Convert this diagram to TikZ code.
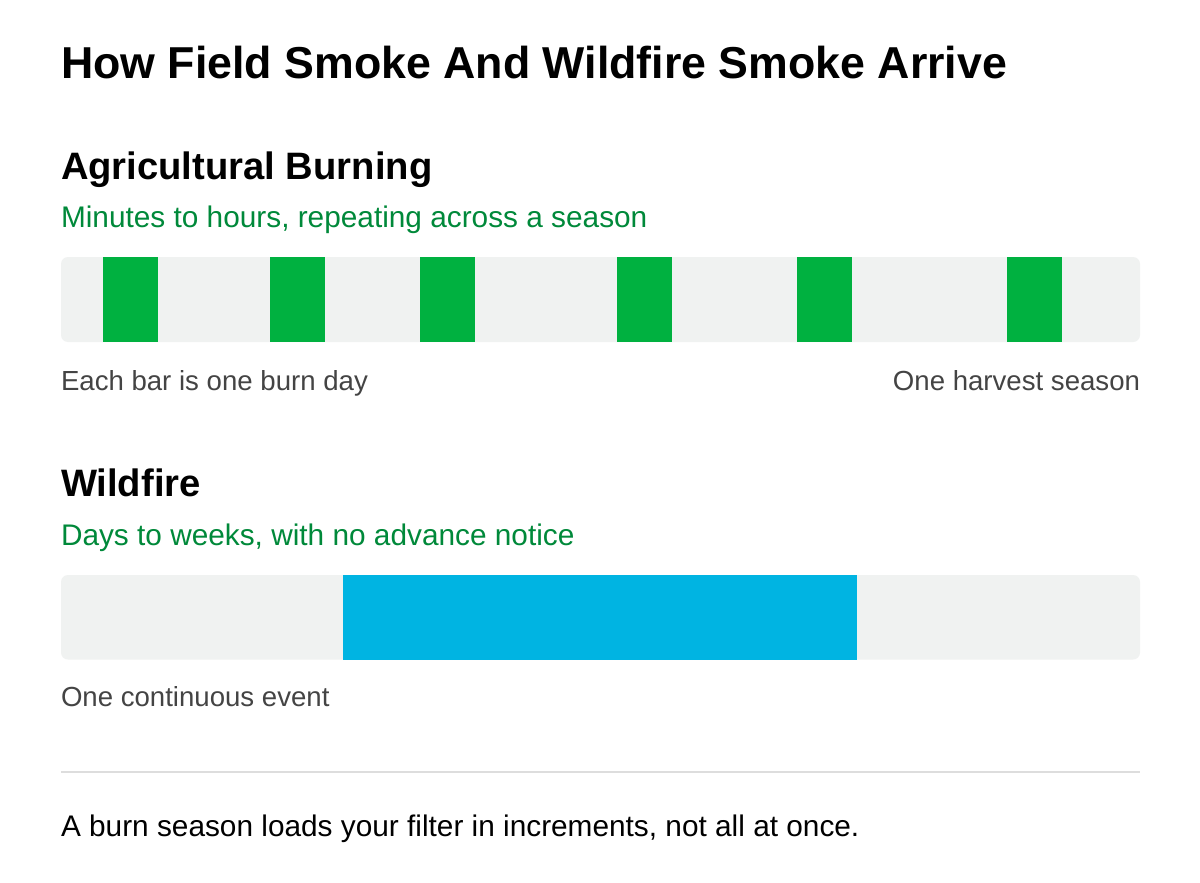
\documentclass[tikz,border=0pt]{standalone}
\usepackage{fontspec}
\setmainfont{Liberation Sans}
\definecolor{trackgray}{HTML}{F0F2F1}
\definecolor{burngreen}{HTML}{00B140}
\definecolor{fireblue}{HTML}{00B4E2}
\definecolor{subgreen}{HTML}{00893A}
\definecolor{capgray}{HTML}{444444}
\definecolor{rulegray}{HTML}{DDDDDD}
\begin{document}
\begin{tikzpicture}[x=1pt,y=-1pt,
  txt/.style={inner sep=0pt,outer sep=0pt,anchor=base west},
  title/.style={txt,font=\fontsize{44.7}{50}\selectfont\bfseries},
  heading/.style={txt,font=\fontsize{38.2}{44}\selectfont\bfseries},
  subline/.style={txt,font=\fontsize{29.8}{34}\selectfont,text=subgreen},
  caption/.style={txt,font=\fontsize{27.6}{32}\selectfont,text=capgray},
  track/.style={fill=trackgray,rounded corners=7pt},
  burnbar/.style={fill=burngreen},
  firebar/.style={fill=fireblue}]
\fill[white] (0,0) rectangle (1200,883);
\useasboundingbox (0,0) rectangle (1200,883);

\node[title] (t) at (61,78) {How Field Smoke And Wildfire Smoke Arrive};

\node[heading] (h1) at (61,179) {Agricultural Burning};
\node[subline] (s1) at (61,227) {Minutes to hours, repeating across a season};
\path[track] (61,257) rectangle (1140,342);
\foreach \a/\b in {103/158,270/325,420/475,617/672,797/852,1007/1062}
  \path[burnbar] (\a,257) rectangle (\b,342);
\node[caption] (c1) at (61,390) {Each bar is one burn day};
\node[caption,anchor=base east] (c2) at (1140,390) {One harvest season};

\node[heading] (h2) at (61,496) {Wildfire};
\node[subline] (s2) at (61,545) {Days to weeks, with no advance notice};
\path[track] (61,575) rectangle (1140,659.5);
\path[firebar] (343,575) rectangle (857,659.5);
\node[caption] (c3) at (61,706) {One continuous event};

\draw[rulegray,line width=2pt] (61,771.5) -- (1140,771.5);
\node[subline,text=black] (f) at (61,836) {A burn season loads your filter in increments, not all at once.};
\end{tikzpicture}
\end{document}
